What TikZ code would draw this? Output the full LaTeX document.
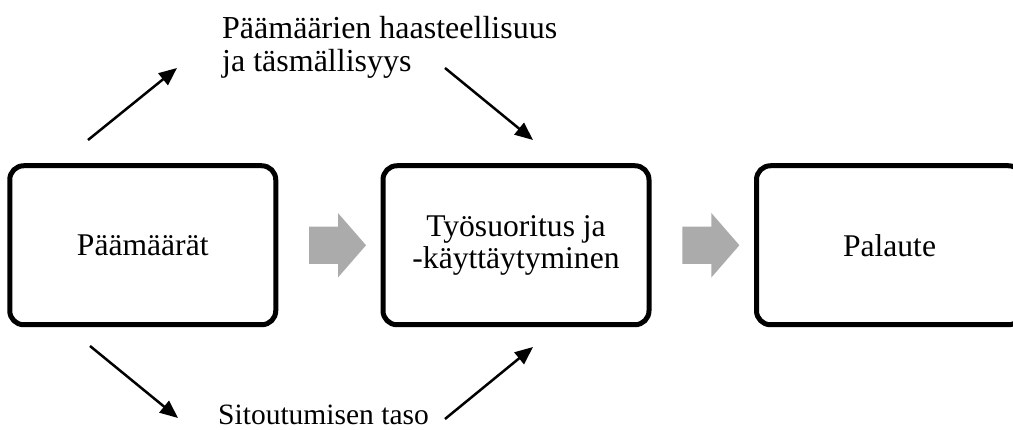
\documentclass[tikz,border=0pt]{standalone}
\usepackage{fontspec}
\setmainfont{Liberation Serif}
\usetikzlibrary{arrows.meta,shapes.arrows,calc}

\begin{document}
\begin{tikzpicture}[x=1pt,y=1pt,>={Triangle[length=18pt,width=15pt]},
  box/.style={draw,line width=5pt,rounded corners=14pt,minimum width=266pt,minimum height=159pt,align=center,font=\fontsize{31.6}{32}\selectfont},
  lbl/.style={align=left,inner sep=0pt,font=\fontsize{32}{33}\selectfont},
  grayarrow/.style={single arrow,fill=black!33,draw=none,minimum height=57pt,inner xsep=0pt,inner ysep=18.5pt,single arrow head extend=13.5pt,single arrow tip angle=98},
  link/.style={line width=2.5pt,->}]
 \useasboundingbox (0,0) rectangle (1013,430);
 \node[box] (goals) at (142.75,184.75) {Päämäärät};
 \node[box] (perf) at (516,184.75) {Työsuoritus ja\\-käyttäytyminen};
 \node[box] (fb) at (889.5,184.75) {Palaute};
 \node[grayarrow] (g1) at ($(goals.east)!.5!(perf.west)$) {};
 \node[grayarrow] (g2) at ($(perf.east)!.5!(fb.west)$) {};
 \node[lbl,anchor=base west] (aim) at (222,358) {Päämäärien haasteellisuus\\ja täsmällisyys};
 \node[lbl,anchor=base west,font=\fontsize{29.5}{33}\selectfont] (commit) at (218,5) {Sitoutumisen taso};
 \coordinate (a1) at (88,290);  \coordinate (b1) at (177,362);
 \coordinate (a2) at (445,362); \coordinate (b2) at (533,290);
 \coordinate (a3) at (90,84);   \coordinate (b3) at (178,12);
 \coordinate (a4) at (445,11);  \coordinate (b4) at (533,83);
 \draw[link] (a1)--(b1);
 \draw[link] (a2)--(b2);
 \draw[link] (a3)--(b3);
 \draw[link] (a4)--(b4);
\end{tikzpicture}
\end{document}
